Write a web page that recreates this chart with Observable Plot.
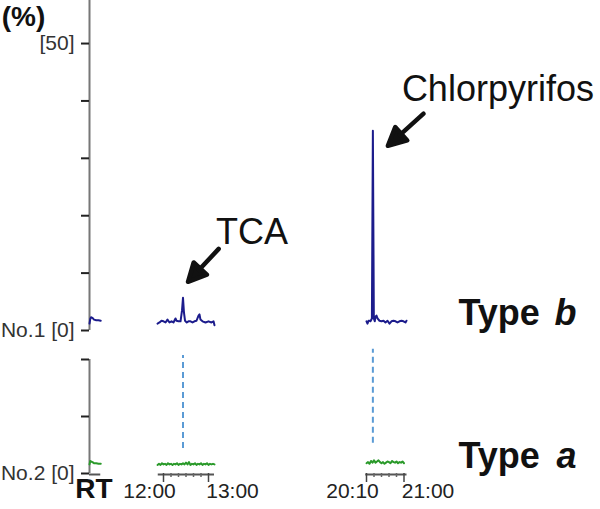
<!DOCTYPE html>
<html><head><meta charset="utf-8">
<script src="https://cdn.jsdelivr.net/npm/d3@7"></script>
<script src="https://cdn.jsdelivr.net/npm/@observablehq/plot@0.6"></script>
<style>
html,body{margin:0;padding:0;background:#fff;}
#chart{width:600px;height:509px;position:relative;overflow:hidden;font-family:"Liberation Sans",Arial,sans-serif;}
#chart svg{display:block;overflow:visible;}
</style></head><body><div id="chart"></div>
<script>
// ---------------- data (retention time in seconds, response in %) ----------------
const segmentNames = ["start", "TCA window", "Chlorpyrifos window"];

// Type b (sample No.1) traces
const typeB_start = [[0,1.2],[1,2.0],[2,2.3],[4,2.2],[6,1.9],[9,1.8],[12,1.8],[15,1.7]];
const typeB_tca = [[712,1.2],[714.7,1.4],[717.3,1.7],[720,1.6],[722.7,1.4],[725.3,1.9],[728,1.4],[730.7,1.6],[733.3,1.4],[736,2.1],[737.3,1.7],[740,1.6],[742.7,1.6],[744.7,3.5],[746,5.7],[747.3,3.1],[748.7,1.7],[751,1.4],[753.3,1.6],[756,1.6],[758.7,1.4],[761.3,1.6],[764,1.7],[766.7,2.6],[768,2.8],[769.3,1.9],[772,1.6],[776,1.4],[780,1.6],[784,1.4],[786.7,1.6],[788,0.9]];
const typeB_chl = [[1210,1.6],[1211.3,1.2],[1212.7,1.7],[1214,1.7],[1215.3,1.6],[1217.2,2.1],[1218.5,34.8],[1219.8,2.1],[1221,1.6],[1222,2.4],[1223.3,2.6],[1224.7,2.1],[1227.3,1.7],[1230,1.6],[1232.7,1.7],[1235.3,1.4],[1238,1.7],[1240.7,1.2],[1243.3,1.6],[1246,1.7],[1248.7,1.6],[1251.3,1.4],[1254,1.6],[1256.7,1.7],[1259.3,1.6],[1262,1.4],[1263.3,1.7]];

// Type a (sample No.2) traces
const typeA_start = [[0,1.6],[1,2.2],[2,2.1],[4,2.0],[6,1.8],[9,1.8],[12,1.7],[15,1.7]];
const typeA_tca = [[712,1.5],[714,1.7],[716,1.5],[718,1.8],[720,1.6],[722,1.7],[724,1.5],[726,1.8],[728,1.6],[730,1.7],[732,1.5],[734,1.7],[736,1.6],[738,1.8],[740,1.5],[742,1.7],[744,1.6],[746,1.8],[748,1.6],[750,1.9],[752,1.6],[754,2.0],[756,1.5],[758,1.7],[760,1.6],[762,1.8],[764,1.5],[766,1.7],[768,1.6],[770,1.8],[772,1.5],[774,1.7],[776,1.6],[778,1.8],[780,1.5],[782,1.7],[784,1.6],[786,1.7],[788,1.6]];
const typeA_chl = [[1210,1.8],[1212,2.0],[1214,1.7],[1216,2.2],[1218,1.9],[1220,2.3],[1222,1.9],[1224,2.1],[1226,2.3],[1228,2.0],[1230,1.8],[1232,2.0],[1234,1.7],[1236,1.9],[1238,2.1],[1240,2.0],[1242,1.8],[1244,2.2],[1246,2.0],[1248,1.9],[1250,2.1],[1252,1.8],[1254,2.0],[1256,1.9],[1258,2.1],[1260,1.8]];

// compounds / peaks
const compounds = ["TCA", "Chlorpyrifos"];
const peakTimes = [746, 1218.5];
const peakHeights = [5.7, 34.8];
const dashTop = [20.7, 21.8];
const dashBottom = [4.4, 5.3];

// axes
const upperTicks = [0, 10, 20, 30, 40, 50];
const lowerTicks = [0, 10, 20];
const rtSegmentStart = [0, 713, 1209];
const rtSegmentEnd = [15, 788, 1264];
const rtMajorTicks = [720, 780, 1210, 1260];
const rtMinorTicks = [730, 740, 750, 760, 770, 1220, 1230, 1240, 1250];
const rtStartLabels = ["12:00", "20:10"];
const rtEndLabels = ["13:00", "21:00"];

// ---------------- build tables ----------------
const toRows = (segs) => segs.flatMap((s, i) => s.map(([t, pct]) => ({t, pct, segment: segmentNames[i]})));
const typeBRows = toRows([typeB_start, typeB_tca, typeB_chl]);
const typeARows = toRows([typeA_start, typeA_tca, typeA_chl]);
const peaks = compounds.map((name, i) => ({name, t: peakTimes[i], pct: peakHeights[i], top: dashTop[i], bottom: dashBottom[i]}));
const segs = rtSegmentStart.map((s, i) => ({t1: s, t2: rtSegmentEnd[i]}));
const startLabels = rtStartLabels.map((label, i) => ({t: rtMajorTicks[i * 2], label}));
const endLabels = rtEndLabels.map((label, i) => ({t: rtMajorTicks[i * 2 + 1], label}));

// broken (piecewise) retention-time axis
const xScale = {type: "linear", domain: [0, 16, 711, 789, 1208, 1265], range: [89, 101, 156.25, 214.75, 364.5, 407.25]};
const FONT = "Liberation Sans, Arial, sans-serif";

const filledArrow = {
  draw(context, l) {
    const h = 18, w = 9;
    context.moveTo(0, 0);
    context.lineTo(0, -l + h - 2);
    context.moveTo(-w, -l + h);
    context.lineTo(0, -l);
    context.lineTo(w, -l + h);
    context.closePath();
  }
};

const upper = Plot.plot({
  width: 600, height: 340,
  marginLeft: 89, marginRight: 0, marginTop: 0, marginBottom: 10,
  style: {fontFamily: FONT, background: "transparent"},
  x: {...xScale, axis: null},
  y: {domain: [0, 57.5], range: [330, 0], axis: null},
  marks: [
    Plot.ruleX([0], {y1: 0, y2: 57.5, stroke: "#777", strokeWidth: 2}),
    Plot.axisY({ticks: upperTicks, tickSize: 8, tickPadding: 7, strokeWidth: 2, stroke: "#222", fill: "#333", fontSize: 21, label: null,
      tickFormat: d => d === 50 ? "[50]" : d === 0 ? "No.1 [0]" : ""}),
    Plot.line(typeBRows, {x: "t", y: "pct", z: "segment", stroke: "#1c1c8c", strokeWidth: 2}),
    Plot.text([peaks[0]], {x: "t", y: "pct", text: "name", dx: 33, dy: -65.5, textAnchor: "start", fontSize: 36, fill: "#111"}),
    Plot.text([peaks[1]], {x: "t", y: "pct", text: "name", dx: 29, dy: -41.5, textAnchor: "start", fontSize: 36, fill: "#111"}),
    Plot.vector([peaks[0]], {x: "t", y: "pct", length: 45, rotate: 223, anchor: "end", shape: filledArrow, stroke: "#111", fill: "#111", strokeWidth: 4.5, dx: 5, dy: -16}),
    Plot.vector([peaks[1]], {x: "t", y: "pct", length: 48, rotate: 228, anchor: "end", shape: filledArrow, stroke: "#111", fill: "#111", strokeWidth: 4.5, dx: 15, dy: 15}),
    Plot.text(["(%)"], {frameAnchor: "top-left", dx: -66, dy: 17, lineAnchor: "middle", textAnchor: "middle", fontSize: 28, fontWeight: "bold", fill: "#111"}),
    Plot.text(["Type"], {y: [0], frameAnchor: "right", dx: -142, dy: -17, textAnchor: "start", fontSize: 36, fontWeight: "bold", fill: "#111"}),
    Plot.text(["b"], {y: [0], frameAnchor: "right", dx: -24, dy: -17, textAnchor: "end", fontSize: 36, fontWeight: "bold", fontStyle: "italic", fill: "#111"})
  ]
});

const lower = Plot.plot({
  width: 600, height: 169,
  marginLeft: 89, marginRight: 0, marginTop: 19, marginBottom: 36,
  style: {fontFamily: FONT, background: "transparent"},
  x: {...xScale, axis: null},
  y: {domain: [0, 20], range: [133, 19], axis: null},
  marks: [
    Plot.ruleX([0], {y1: 0, y2: 20, stroke: "#777", strokeWidth: 2}),
    Plot.axisY({ticks: lowerTicks, tickSize: 8, tickPadding: 7, strokeWidth: 2, stroke: "#222", fill: "#333", fontSize: 21, label: null,
      tickFormat: d => d === 0 ? "No.2 [0]" : ""}),
    Plot.ruleY(segs, {y: 0, x1: "t1", x2: "t2", stroke: "#555", strokeWidth: 2, dy: 1}),
    Plot.axisX({ticks: rtMajorTicks, tickSize: 9, strokeWidth: 1.5, stroke: "#444", tickFormat: () => "", label: null}),
    Plot.axisX({ticks: rtMinorTicks, tickSize: 4, strokeWidth: 1.5, stroke: "#666", tickFormat: () => "", label: null}),
    Plot.ruleX(peaks, {x: "t", y1: "bottom", y2: "top", stroke: "#5b9bd5", strokeWidth: 2, strokeDasharray: "6,4"}),
    Plot.line(typeARows, {x: "t", y: "pct", z: "segment", stroke: "#2a9a2a", strokeWidth: 2}),
    Plot.text(startLabels, {x: "t", text: "label", frameAnchor: "bottom", dx: -14, dy: 24, fontSize: 21, fill: "#222"}),
    Plot.text(endLabels, {x: "t", text: "label", frameAnchor: "bottom", dx: 24, dy: 24, fontSize: 21, fill: "#222"}),
    Plot.text(["RT"], {frameAnchor: "bottom-left", dx: 4.5, dy: 24, textAnchor: "middle", fontSize: 28, fontWeight: "bold", fill: "#111"}),
    Plot.text(["Type"], {y: [0], frameAnchor: "right", dx: -142, dy: -17, textAnchor: "start", fontSize: 36, fontWeight: "bold", fill: "#111"}),
    Plot.text(["a"], {y: [0], frameAnchor: "right", dx: -24, dy: -17, textAnchor: "end", fontSize: 36, fontWeight: "bold", fontStyle: "italic", fill: "#111"})
  ]
});

document.getElementById("chart").append(upper, lower);
</script></body></html>
